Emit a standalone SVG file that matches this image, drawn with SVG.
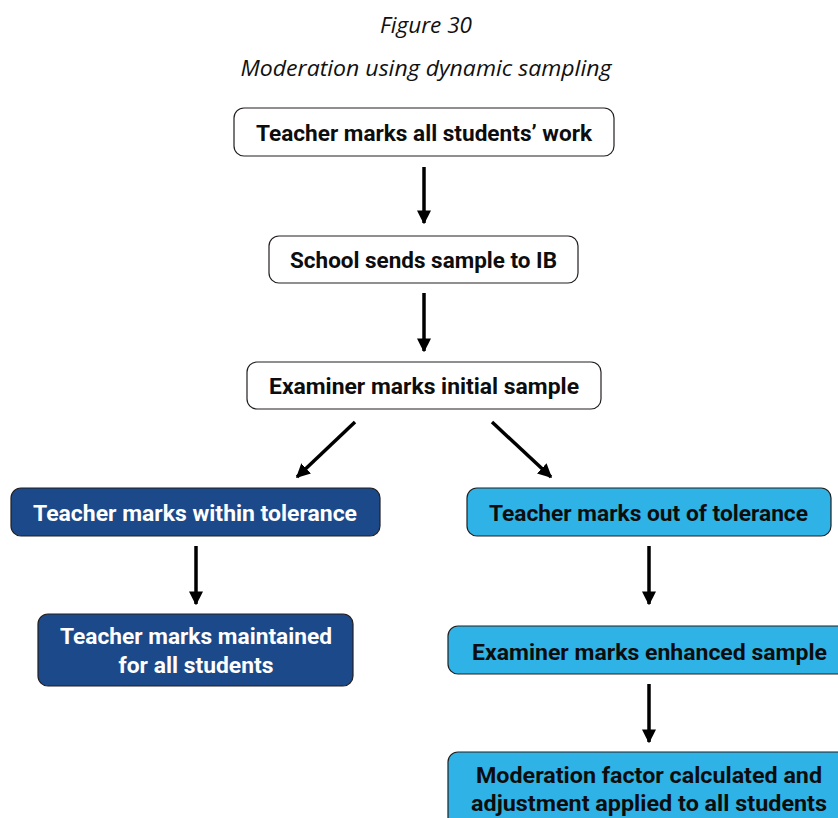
<svg xmlns="http://www.w3.org/2000/svg" width="838" height="818" viewBox="0 0 838 818">
  <style>
    .box { stroke: #231f20; stroke-width: 1.2; }
    .white { fill: #ffffff; }
    .dark { fill: #1b4989; }
    .light { fill: #2fb2e6; }
    .lbl { font-family: Roboto, "Liberation Sans", sans-serif; font-weight: bold; font-size: 22px; text-anchor: middle; }
    .lbl-dark { fill: #0d0d0d; }
    .lbl-white { fill: #ffffff; }
    .title { font-family: "Open Sans", "Liberation Sans", sans-serif; font-style: italic; font-size: 21px; text-anchor: middle; fill: #111111; }
    .conn { stroke: #000000; stroke-width: 3.5; fill: none; marker-end: url(#head); }
  </style>
  <defs>
    <marker id="head" viewBox="0 0 10 10" refX="9" refY="5" markerWidth="4" markerHeight="4" markerUnits="strokeWidth" orient="auto">
      <path d="M0,0 L10,5 L0,10 Z" fill="#000000"/>
    </marker>
  </defs>

  <text class="title" x="426" y="33" textLength="92" lengthAdjust="spacingAndGlyphs">Figure 30</text>
  <text class="title" x="426" y="76" textLength="371" lengthAdjust="spacingAndGlyphs">Moderation using dynamic sampling</text>

  <g id="connectors">
    <line class="conn" x1="424" y1="167" x2="424" y2="223"/>
    <line class="conn" x1="424" y1="293" x2="424" y2="351"/>
    <line class="conn" x1="355" y1="422" x2="297" y2="477"/>
    <line class="conn" x1="492" y1="422" x2="551" y2="477"/>
    <line class="conn" x1="196" y1="546" x2="196" y2="604"/>
    <line class="conn" x1="649" y1="546" x2="649" y2="604"/>
    <line class="conn" x1="649" y1="684" x2="649" y2="742"/>
  </g>

  <g id="teacher-marks-all">
    <rect class="box white" x="234" y="108" width="380" height="48" rx="10"/>
    <text class="lbl lbl-dark" x="424" y="141" textLength="336" lengthAdjust="spacingAndGlyphs">Teacher marks all students’ work</text>
  </g>

  <g id="school-sends-sample">
    <rect class="box white" x="269" y="236" width="309" height="47" rx="10"/>
    <text class="lbl lbl-dark" x="423.5" y="268" textLength="267" lengthAdjust="spacingAndGlyphs">School sends sample to IB</text>
  </g>

  <g id="examiner-initial">
    <rect class="box white" x="247" y="362" width="354" height="47" rx="10"/>
    <text class="lbl lbl-dark" x="424" y="394" textLength="310" lengthAdjust="spacingAndGlyphs">Examiner marks initial sample</text>
  </g>

  <g id="within-tolerance">
    <rect class="box dark" x="11" y="488" width="369" height="48" rx="10"/>
    <text class="lbl lbl-white" x="195" y="521" textLength="324" lengthAdjust="spacingAndGlyphs">Teacher marks within tolerance</text>
  </g>

  <g id="marks-maintained">
    <rect class="box dark" x="38" y="614" width="315" height="72" rx="10"/>
    <text class="lbl lbl-white" x="196" y="644" textLength="272" lengthAdjust="spacingAndGlyphs">Teacher marks maintained</text>
    <text class="lbl lbl-white" x="196" y="673" textLength="155" lengthAdjust="spacingAndGlyphs">for all students</text>
  </g>

  <g id="out-of-tolerance">
    <rect class="box light" x="467" y="488" width="364" height="48" rx="10"/>
    <text class="lbl lbl-dark" x="648.5" y="521" textLength="319" lengthAdjust="spacingAndGlyphs">Teacher marks out of tolerance</text>
  </g>

  <g id="examiner-enhanced">
    <rect class="box light" x="448" y="626" width="400" height="48" rx="10"/>
    <text class="lbl lbl-dark" x="649.5" y="660" textLength="355" lengthAdjust="spacingAndGlyphs">Examiner marks enhanced sample</text>
  </g>

  <g id="moderation-factor">
    <rect class="box light" x="448" y="752" width="400" height="80" rx="10"/>
    <text class="lbl lbl-dark" x="649" y="783" textLength="346" lengthAdjust="spacingAndGlyphs">Moderation factor calculated and</text>
    <text class="lbl lbl-dark" x="649" y="811" textLength="356" lengthAdjust="spacingAndGlyphs">adjustment applied to all students</text>
  </g>
</svg>
